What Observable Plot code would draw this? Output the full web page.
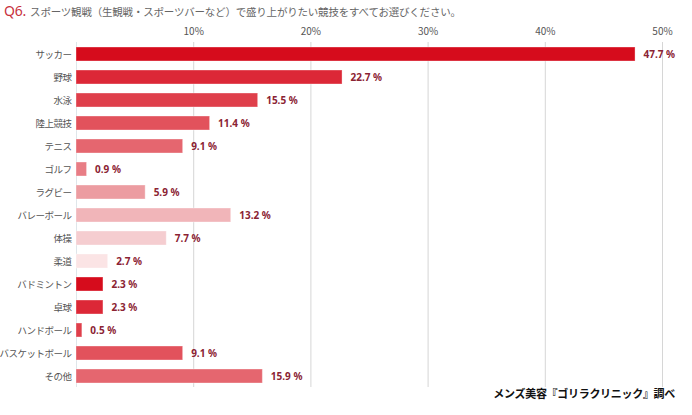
<!DOCTYPE html>
<html><head><meta charset="utf-8">
<script src="https://cdn.jsdelivr.net/npm/d3@7"></script>
<script src="https://cdn.jsdelivr.net/npm/@observablehq/plot@0.6"></script>
<style>
body{margin:0;background:#fff;font-family:"Noto Sans CJK JP","Noto Sans",sans-serif;}
#wrap{position:relative;width:692px;height:415px;overflow:hidden;}
#title{position:absolute;left:4px;top:1px;white-space:nowrap;color:#666;font-size:10.5px;letter-spacing:-0.2px;}
#title .q{color:#c8313d;font-size:14px;font-weight:normal;margin-right:4px;font-family:"Noto Sans","Noto Sans CJK JP",sans-serif;}
#chart{position:absolute;left:0;top:22px;}
#cap{position:absolute;right:17px;top:385px;font-size:11px;font-weight:bold;color:#111;white-space:nowrap;letter-spacing:-0.3px;}
#chart g[aria-label="y-axis tick label"] text{letter-spacing:-0.5px;}
</style></head>
<body><div id="wrap">
<div id="title"><span class="q">Q6.</span>スポーツ観戦（生観戦・スポーツバーなど）で盛り上がりたい競技をすべてお選びください。</div>
<div id="chart"></div>
<div id="cap">メンズ美容『ゴリラクリニック』調べ</div>
</div>
<script>
const categories = ["サッカー","野球","水泳","陸上競技","テニス","ゴルフ","ラグビー","バレーボール","体操","柔道","バドミントン","卓球","ハンドボール","バスケットボール","その他"];
const values = [47.7,22.7,15.5,11.4,9.1,0.9,5.9,13.2,7.7,2.7,2.3,2.3,0.5,9.1,15.9];
const xTicks = [10,20,30,40,50];
const palette = ["#d60c1c","#dc2837","#df3f4b","#e2525c","#e5666f","#e87d85","#ec9ca1","#f1b5b9","#f5cdd0","#fbe4e5","#d60c1c","#dc2837","#df3f4b","#e2525c","#e5666f"];

const data = categories.map((c,i)=>({cat:c, v:values[i]}));

const chart = Plot.plot({
  width: 692,
  height: 369,
  marginTop: 20,
  marginBottom: 4,
  marginLeft: 76,
  marginRight: 30,
  style: {fontFamily: '"Noto Sans CJK JP","Noto Sans",sans-serif', fontSize: "10px", color: "#555", background: "#fff"},
  x: {domain: [0,50], axis: null},
  y: {domain: categories, padding: 0.4, paddingOuter: 0.15, axis: null},
  color: {domain: categories, range: palette},
  marks: [
    Plot.gridX(xTicks, {stroke: "#d6d6d6", strokeOpacity: 1}),
    Plot.axisX(xTicks, {anchor: "top", tickSize: 0, tickPadding: 8, tickFormat: d => d + "%", label: null, fontSize: 10, fill: "#555"}),
    Plot.axisY({anchor: "left", tickSize: 0, tickPadding: 5, label: null, fontSize: 9.5, fill: "#555"}),
    Plot.ruleX([0], {stroke: "#dfe6ea"}),
    Plot.barX(data, {x: "v", y: "cat", fill: "cat", stroke: "#ffffff", strokeOpacity: 0.35, strokeWidth: 1}),
    Plot.text(data, {x: "v", y: "cat", text: d => d.v.toFixed(1) + " %", textAnchor: "start", dx: 8, fill: "#8b2333", fontWeight: "bold", fontSize: 10, fontFamily: '"Noto Sans","Noto Sans CJK JP",sans-serif'})
  ]
});
document.getElementById("chart").appendChild(chart);
</script>
</body></html>
